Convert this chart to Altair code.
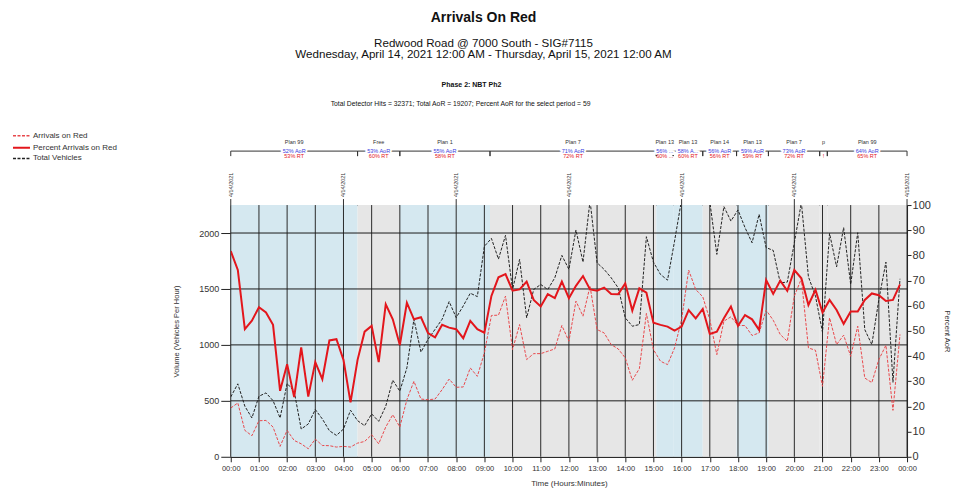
import altair as alt
import pandas as pd

# ---------------- data ----------------
times = [f"{h:02d}:{m:02d}" for h in range(24) for m in (0, 15, 30, 45)]

pct_aor = [81.7, 74.2, 50.7, 54.1, 59.4, 57.3, 52.4, 26.2, 36.8, 23.7, 43.5, 23.9, 37.6, 30.8, 46.2, 46.7,
           38.5, 21.6, 38.5, 49.7, 52.0, 37.6, 60.6, 54.6, 44.4, 61.2, 54.6, 55.4, 49.1, 47.4, 52.4, 51.3,
           50.7, 47.1, 54.0, 50.7, 49.3, 63.9, 71.3, 72.6, 66.0, 66.5, 69.6, 62.3, 59.7, 64.6, 63.0, 69.6,
           63.0, 67.9, 71.8, 66.5, 66.0, 67.2, 64.7, 64.6, 68.9, 58.1, 66.9, 65.2, 53.3, 52.4, 51.7, 50.1,
           51.7, 58.3, 55.0, 58.7, 48.8, 49.7, 55.0, 59.7, 52.0, 56.3, 54.6, 50.4, 70.2, 64.7, 70.0, 65.9,
           74.2, 70.9, 60.3, 66.3, 57.3, 62.3, 58.3, 52.8, 57.7, 57.7, 62.3, 64.9, 64.2, 61.9, 62.3, 68.5]

total_vehicles = [535, 652, 452, 347, 541, 571, 502, 347, 655, 586, 248, 293, 422, 338, 233, 191,
                  248, 416, 323, 278, 383, 317, 452, 685, 586, 795, 1229, 936, 1049, 1139, 1229, 1387,
                  1244, 1348, 1462, 1432, 1881, 1952, 1767, 1979, 1495, 1764, 1242, 1495, 1540, 1495, 1600, 1800,
                  1675, 2027, 1740, 2290, 1734, 1675, 1600, 1510, 1242, 1167, 1182, 1967, 1740, 1630, 1579, 1928,
                  2300, 2850, 2700, 2440, 2280, 1809, 2236, 2107, 2206, 2048, 1913, 2167, 1869, 1845, 1555, 1561,
                  1913, 2272, 1609, 1436, 1113, 1997, 1698, 2048, 1540, 2003, 1137, 1003, 1406, 1740, 666, 1591]

aor_volume = [436, 481, 236, 188, 322, 325, 266, 93, 236, 146, 116, 72, 158, 101, 99, 87,
              93, 87, 122, 137, 197, 116, 266, 376, 266, 510, 675, 516, 510, 516, 600, 695,
              621, 624, 794, 719, 928, 1263, 1266, 1436, 958, 1182, 869, 922, 922, 943, 964, 1173,
              1033, 1391, 1257, 1525, 1137, 1107, 1003, 964, 884, 684, 788, 1281, 958, 854, 824, 973,
              1227, 1669, 1495, 1430, 1227, 913, 1212, 1251, 1173, 1173, 1084, 1107, 1310, 1221, 1093, 1033,
              1436, 1591, 973, 952, 630, 1242, 1003, 1087, 898, 1167, 704, 663, 869, 997, 415, 1093]

plan_names = ["Plan 99", "Free", "Plan 1", "Plan 7", "Plan 13", "Plan 13", "Plan 14", "Plan 13", "Plan 7", "p", "Plan 99"]
plan_start = [0.0, 4.5, 6.0, 9.2, 15.1, 15.7, 16.75, 17.95, 19.08, 20.9, 21.17]
plan_end = [4.5, 6.0, 9.2, 15.1, 15.7, 16.75, 17.95, 19.08, 20.9, 21.17, 24.0]
plan_aor = ["52% AoR", "53% AoR", "55% AoR", "71% AoR", "56% ...", "58% A...", "56% AoR", "59% AoR", "73% AoR", "", "64% AoR"]
plan_rt = ["53% RT", "60% RT", "58% RT", "72% RT", "60% ...", "60% RT", "56% RT", "59% RT", "72% RT", "!", "65% RT"]
plan_band = ["blue", "grey", "blue", "grey", "blue", "blue", "grey", "blue", "grey", "grey", "grey"]

hour_ticks = list(range(25))
volume_ticks = [0, 500, 1000, 1500, 2000]
pct_ticks = list(range(0, 101, 10))
date_hours = [0, 4, 8, 12, 16, 20, 24]
date_labels = ["4/14/2021"] * 6 + ["4/15/2021"]

legend_names = ["Arrivals on Red", "Percent Arrivals on Red", "Total Vehicles"]

# ---------------- frames ----------------
series = pd.DataFrame({
    "time": times,
    "hour": [int(t[:2]) + int(t[3:]) / 60 for t in times],
    "pct": pct_aor,
    "total": total_vehicles,
    "aor": aor_volume,
})
plans = pd.DataFrame({"name": plan_names, "start": plan_start, "end": plan_end,
                      "aor": plan_aor, "rt": plan_rt, "band": plan_band})
plans["mid"] = (plans["start"] + plans["end"]) / 2
hours_df = pd.DataFrame({"h": hour_ticks})
vol_df = pd.DataFrame({"v": volume_ticks[1:]})
dates_df = pd.DataFrame({"h": date_hours, "label": date_labels})

W, H = 677, 252
FONT = "Liberation Sans"
VDOM = [0, 2250]

xscale = alt.Scale(domain=[0, 24], nice=False, zero=False)
xaxis = alt.Axis(values=hour_ticks, grid=False, tickSize=5, tickColor="#222", domainColor="#222",
                 labelExpr="(datum.value % 24 < 10 ? '0' : '') + (datum.value % 24) + ':00'",
                 labelFlush=False, labelOverlap=False,
                 labelFontSize=7.5, labelColor="#333", labelPadding=3, labelFont=FONT,
                 title="Time (Hours:Minutes)", titleFontSize=8, titleFontWeight="normal",
                 titleColor="#333", titleFont=FONT, titleY=27, titleBaseline="middle")


def X(field):
    return alt.X(f"{field}:Q", scale=xscale, axis=xaxis)


def Yv(field, axis=None):
    return alt.Y(f"{field}:Q", scale=alt.Scale(domain=VDOM, nice=False, zero=True), axis=axis)


base_plans = alt.Chart(plans)

bands = base_plans.mark_rect().encode(
    x=X("start"), x2="end", y=alt.value(0), y2=alt.value(H),
    color=alt.Color("band:N", scale=alt.Scale(domain=["blue", "grey"], range=["#d5e8f0", "#e6e6e6"]), legend=None),
)

vgrid = alt.Chart(hours_df).mark_rule(color="#2a2a2a", strokeWidth=1).encode(
    x=X("h"), y=alt.value(0), y2=alt.value(H))

left_axis = alt.Axis(orient="left", values=volume_ticks, format="d", grid=False, tickSize=10, tickColor="#222",
                     domain=False, labelFontSize=9, labelColor="#333", labelPadding=2, labelFont=FONT,
                     title="Volume (Vehicles Per Hour)", titleFontSize=7.5, titleFontWeight="normal",
                     titleColor="#333", titleFont=FONT, titleAngle=270, titleX=-54, titleY=H / 2,
                     titleAlign="center", titleBaseline="middle")

hgrid = alt.Chart(vol_df).mark_rule(color="#1a1a1a", strokeWidth=1).encode(
    y=Yv("v", left_axis), x=alt.value(0), x2=alt.value(W))

total_line = alt.Chart(series).mark_line(color="#222", strokeWidth=1, strokeDash=[3, 1.5], clip=True).encode(
    x=X("hour"), y=Yv("total"))

aor_line = alt.Chart(series).mark_line(color="#e8484c", strokeWidth=1, strokeDash=[3, 1.5], clip=True).encode(
    x=X("hour"), y=Yv("aor"))

right_axis = alt.Axis(orient="right", values=pct_ticks, format="d", grid=False, tickSize=4, tickColor="#222",
                      domain=False, labelFontSize=11, labelColor="#333", labelPadding=1, labelFont=FONT,
                      title="Percent AoR", titleFontSize=7.5, titleFontWeight="normal", titleColor="#333",
                      titleFont=FONT, titleAngle=90, titleX=39, titleY=H / 2, titleAlign="center",
                      titleBaseline="middle")

pct_line = alt.Chart(series).mark_line(color="#e3161c", strokeWidth=2, clip=True).encode(
    x=X("hour"), y=alt.Y("pct:Q", scale=alt.Scale(domain=[0, 100], nice=False), axis=right_axis))

# ---- plan annotations above plot ----
LINE_Y = -54
bracket = base_plans.mark_rule(color="#333", strokeWidth=1).encode(
    x=X("start"), x2="end", y=alt.value(LINE_Y))
tick_s = base_plans.mark_rule(color="#333", strokeWidth=1).encode(
    x=X("start"), y=alt.value(LINE_Y), y2=alt.value(LINE_Y + 5))
tick_e = base_plans.mark_rule(color="#333", strokeWidth=1).encode(
    x=X("end"), y=alt.value(LINE_Y), y2=alt.value(LINE_Y + 5))
pname = base_plans.mark_text(fontSize=5.5, font=FONT, color="#333", baseline="middle").encode(
    x=X("mid"), y=alt.value(-63), text="name:N")
paor_halo = base_plans.mark_text(fontSize=5.5, font=FONT, color="white", stroke="white", strokeWidth=4,
                                 baseline="middle").encode(x=X("mid"), y=alt.value(-54.5), text="aor:N")
paor = base_plans.mark_text(fontSize=5.5, font=FONT, color="#3a3ae0", baseline="middle").encode(
    x=X("mid"), y=alt.value(-54.5), text="aor:N")
prt = base_plans.mark_text(fontSize=5.5, font=FONT, color="#e3161c", baseline="middle").encode(
    x=X("mid"), y=alt.value(-49.5), text="rt:N")

# ---- date labels ----
date_tick = alt.Chart(dates_df).mark_rule(color="#333").encode(
    x=X("h"), y=alt.value(-6), y2=alt.value(0))
date_text = alt.Chart(dates_df).mark_text(fontSize=5.5, font=FONT, color="#333", angle=270,
                                          align="left", baseline="middle").encode(
    x=X("h"), y=alt.value(-8), text="label:N")

# ---- legend ----
leg_y = [-69.3, -57.3, -46.7]
leg_colors = ["#e8484c", "#e3161c", "#222"]
leg_dash = [[3, 1.5], [1, 0], [3, 1.5]]
leg_width = [1.5, 2, 1.5]
legend_layers = []
for name, yy, c, d, sw in zip(legend_names, leg_y, leg_colors, leg_dash, leg_width):
    legend_layers.append(alt.Chart(pd.DataFrame({"t": [name]})).mark_rule(color=c, strokeDash=d, strokeWidth=sw).encode(
        x=alt.value(-218), x2=alt.value(-201), y=alt.value(yy)))
    legend_layers.append(alt.Chart(pd.DataFrame({"t": [name]})).mark_text(
        fontSize=8, font=FONT, color="#333", align="left", baseline="middle").encode(
        x=alt.value(-198), y=alt.value(yy), text="t:N"))

# ---- titles ----
def title_text(txt, x, y, size, weight="normal"):
    return alt.Chart(pd.DataFrame({"t": [txt]})).mark_text(
        fontSize=size, font=FONT, fontWeight=weight, color="#111", align="center", baseline="alphabetic"
    ).encode(x=alt.value(x), y=alt.value(y), text="t:N")

titles = [
    title_text("Arrivals On Red", 253, -183.5, 14, "bold"),
    title_text("Redwood Road @ 7000 South - SIG#7115", 253, -158, 11.6),
    title_text("Wednesday, April 14, 2021 12:00 AM - Thursday, April 15, 2021 12:00 AM", 253, -147, 11.6),
    title_text("Phase 2: NBT Ph2", 241, -118, 7, "bold"),
    title_text("Total Detector Hits = 32371; Total AoR = 19207; Percent AoR for the select period = 59", 230, -99, 6.8),
]

chart = alt.layer(
    bands, vgrid, hgrid, total_line, aor_line, pct_line,
    bracket, tick_s, tick_e, paor_halo, paor, prt, pname, date_tick, date_text,
    *legend_layers, *titles,
).resolve_scale(y="independent").properties(
    width=W, height=H,
    autosize=alt.AutoSizeParams(type="none"),
    padding={"left": 223, "top": 197, "right": 44, "bottom": 36},
    background="white",
).configure_view(stroke="#111", strokeWidth=1)

chart.save("out.html", embed_options={"renderer": "svg", "actions": False})
